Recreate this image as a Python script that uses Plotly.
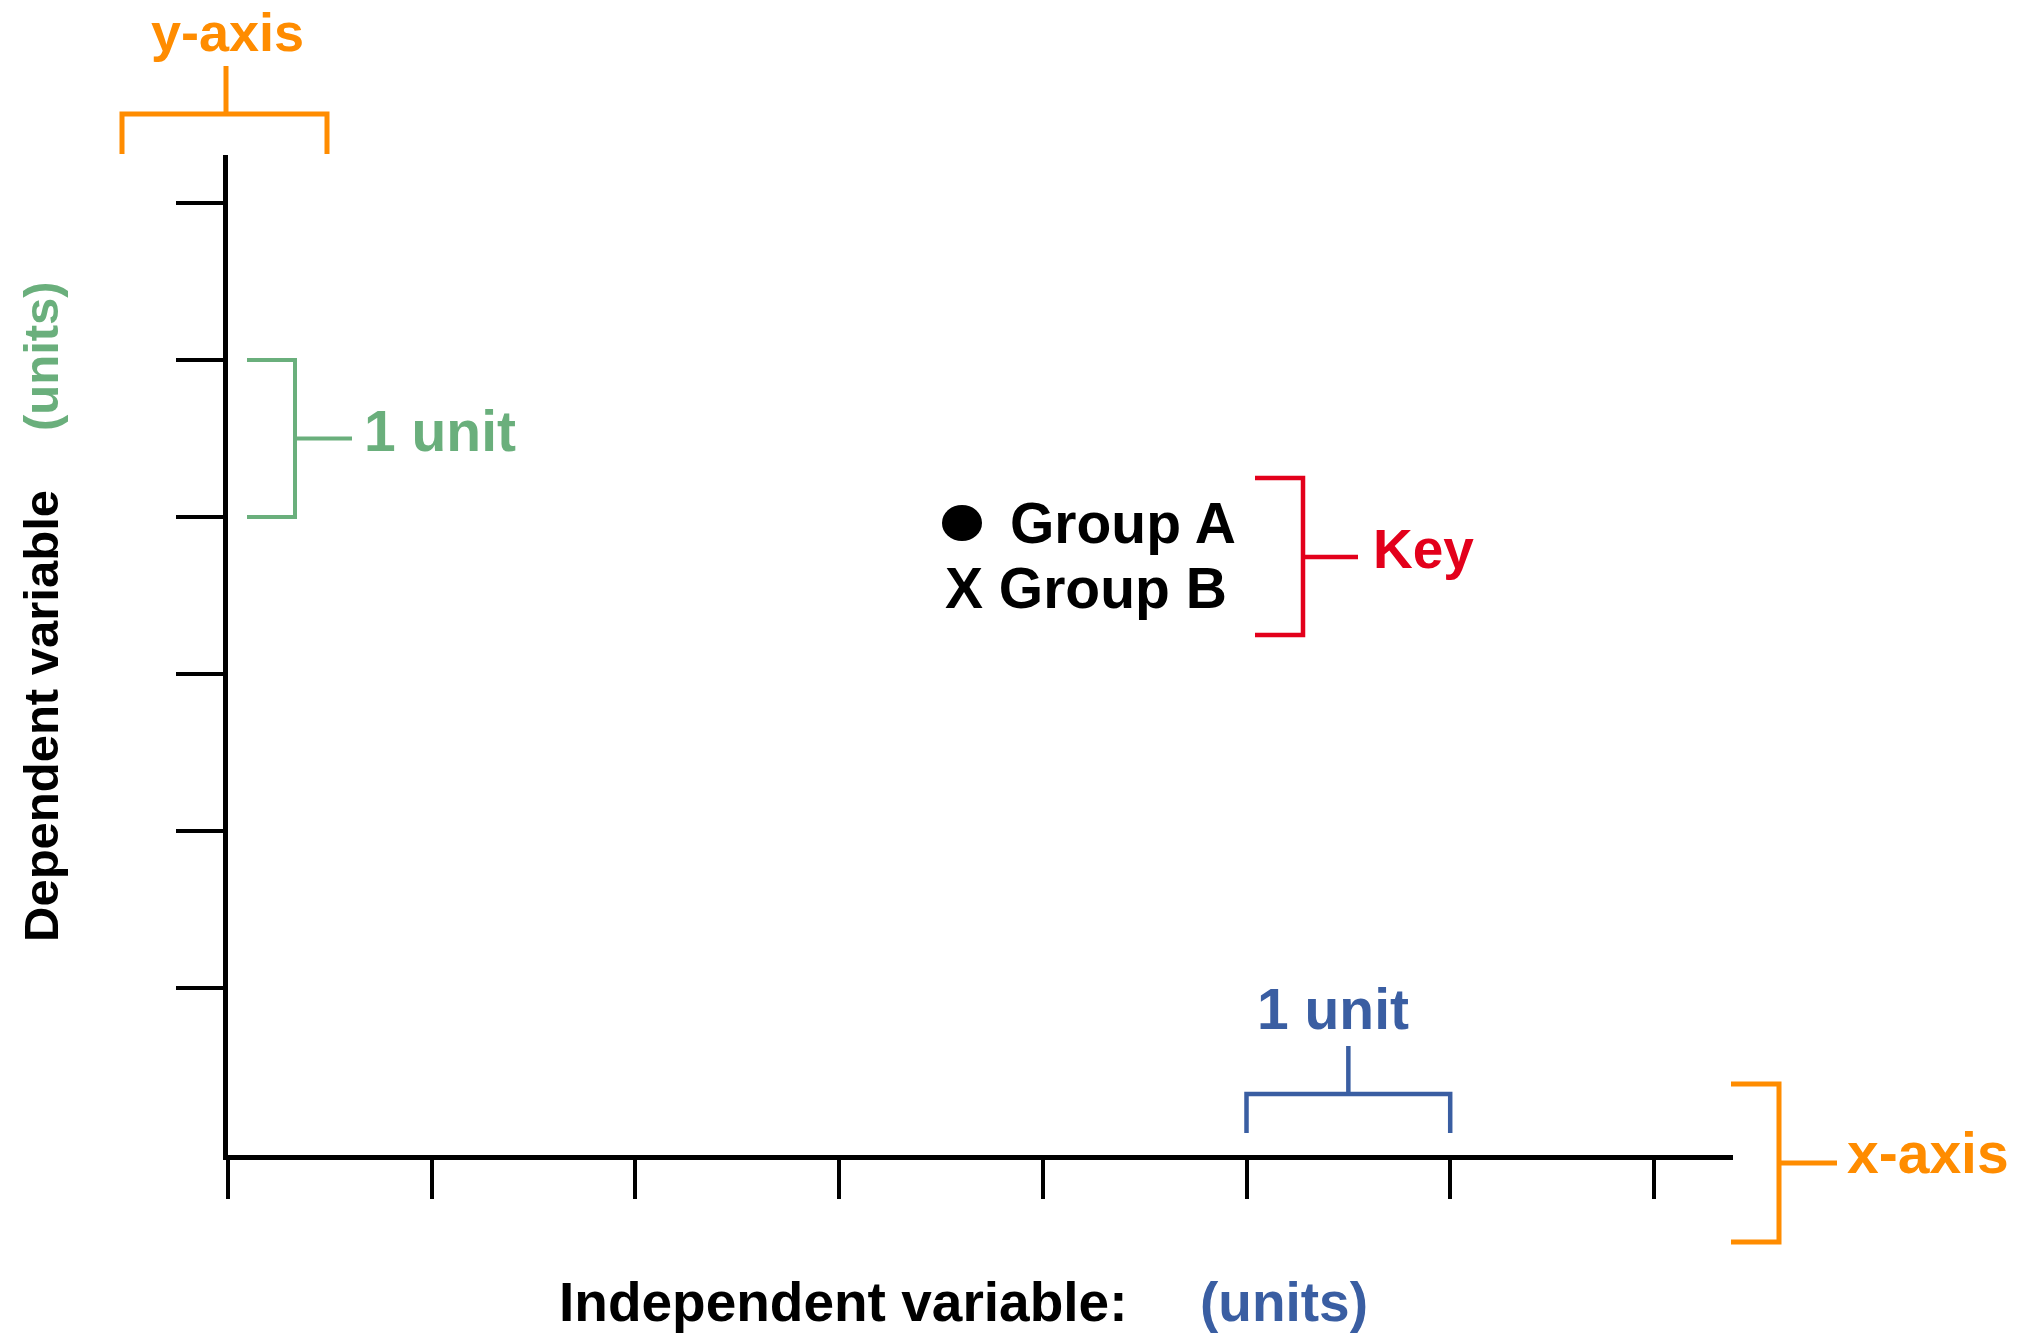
import plotly.graph_objects as go

# ---- data (diagram values) ----
x_tick_values = [0, 1, 2, 3, 4, 5, 6, 7]
y_tick_values = [1, 2, 3, 4, 5, 6]
x_unit_span = [5, 6]          # the "1 unit" interval marked on the x-axis
y_unit_span = [4, 5]          # the "1 unit" interval marked on the y-axis
key_groups = ["Group A", "Group B"]
key_symbols = ["dot", "X"]
x_title = "Independent variable:"
y_title = "Dependent variable"
unit_label = "(units)"
one_unit = "1 unit"

ORANGE = "#FF8C00"
GREEN = "#6AAF7C"
BLUE = "#3A5EA2"
RED = "#E3001B"
BLACK = "#000000"
FONT = "Liberation Sans, Arial, Helvetica, sans-serif"

W, H = 2028, 1335
L, R, T, B = 228, 1733, 155, 1155     # plot area in pixels
X_PER_UNIT = 203.7
Y_PER_UNIT = 157.0
Y_ZERO_PX = 1145.0

x_range = [0, (R - L) / X_PER_UNIT]
y_range = [-(B - Y_ZERO_PX) / Y_PER_UNIT, (Y_ZERO_PX - T) / Y_PER_UNIT]


def px(x):
    return (x - L) / (R - L)


def py(y):
    return (B - y) / (B - T)


fig = go.Figure()
fig.add_trace(go.Scatter(x=[None], y=[None], mode="markers", showlegend=False, hoverinfo="skip"))

shapes = []


def path(points, color, width, xref="paper", yref="paper"):
    d = "M " + " L ".join(f"{a},{b}" for a, b in points)
    shapes.append(dict(type="path", path=d, xref=xref, yref=yref,
                       line=dict(color=color, width=width), layer="above"))


# orange y-axis bracket (above the axis)
path([(px(122), py(154)), (px(122), py(114)), (px(327), py(114)), (px(327), py(154))], ORANGE, 5)
path([(px(226), py(114)), (px(226), py(66))], ORANGE, 5)

# green 1-unit bracket on y-axis (data coordinates in y)
path([(px(247), y_unit_span[1]), (px(295), y_unit_span[1]),
      (px(295), y_unit_span[0]), (px(247), y_unit_span[0])], GREEN, 4, yref="y")
ymid = (y_unit_span[0] + y_unit_span[1]) / 2
path([(px(295), ymid), (px(352), ymid)], GREEN, 4, yref="y")

# blue 1-unit bracket on x-axis (data coordinates in x)
path([(x_unit_span[0], py(1133)), (x_unit_span[0], py(1094)),
      (x_unit_span[1], py(1094)), (x_unit_span[1], py(1133))], BLUE, 4.5, xref="x")
xmid = (x_unit_span[0] + x_unit_span[1]) / 2
path([(xmid, py(1094)), (xmid, py(1046))], BLUE, 4.5, xref="x")

# red key bracket
path([(px(1255), py(478)), (px(1303), py(478)), (px(1303), py(635)), (px(1255), py(635))], RED, 4.5)
path([(px(1303), py(557)), (px(1358), py(557))], RED, 4.5)

# orange x-axis bracket
path([(px(1731), py(1084)), (px(1779), py(1084)), (px(1779), py(1242)), (px(1731), py(1242))], ORANGE, 5)
path([(px(1779), py(1163)), (px(1837), py(1163))], ORANGE, 5)

# key dot for Group A
shapes.append(dict(type="circle", xref="paper", yref="paper",
                   x0=px(942), x1=px(982), y0=py(541), y1=py(505),
                   fillcolor=BLACK, line=dict(color=BLACK, width=0), layer="above"))

annotations = []


def text(s, x, y, color, size, xanchor="center", angle=0, family=FONT):
    annotations.append(dict(text=f"<b>{s}</b>", x=px(x), y=py(y), xref="paper", yref="paper",
                            xanchor=xanchor, yanchor="middle", showarrow=False, textangle=angle,
                            font=dict(family=family, size=size, color=color)))


text("y-axis", 227, 32, ORANGE, 54)
text("x-axis", 1845, 1153, ORANGE, 57, xanchor="left")
text(one_unit, 440, 431, GREEN, 57)
text(one_unit, 1333, 1009, BLUE, 57)
text("Key", 1371, 549, RED, 55, xanchor="left")
text(key_groups[0], 1008, 523, BLACK, 57, xanchor="left")
text(key_symbols[1] + " " + key_groups[1], 943, 588, BLACK, 57, xanchor="left")
text(x_title, 557, 1302, BLACK, 55, xanchor="left")
text(unit_label, 1198, 1302, BLUE, 55, xanchor="left")
text(y_title, 41, 716, BLACK, 49, angle=-90)
text(unit_label, 41, 356, GREEN, 49, angle=-90)

fig.update_layout(
    width=W, height=H,
    margin=dict(l=L, r=W - R, t=T, b=H - B, pad=0),
    paper_bgcolor="white", plot_bgcolor="white",
    showlegend=False,
    shapes=shapes, annotations=annotations,
    xaxis=dict(range=x_range, tickmode="array", tickvals=x_tick_values, showticklabels=False,
               ticks="outside", ticklen=39, tickwidth=4, tickcolor=BLACK,
               showline=True, linewidth=5, linecolor=BLACK, showgrid=False, zeroline=False,
               fixedrange=True),
    yaxis=dict(range=y_range, tickmode="array", tickvals=y_tick_values, showticklabels=False,
               ticks="outside", ticklen=47, tickwidth=4, tickcolor=BLACK,
               showline=True, linewidth=5, linecolor=BLACK, showgrid=False, zeroline=False,
               fixedrange=True),
)

fig.write_html("out.html", config={"displayModeBar": False},
               post_script="document.body.style.margin='0';document.body.style.overflow='hidden';")
